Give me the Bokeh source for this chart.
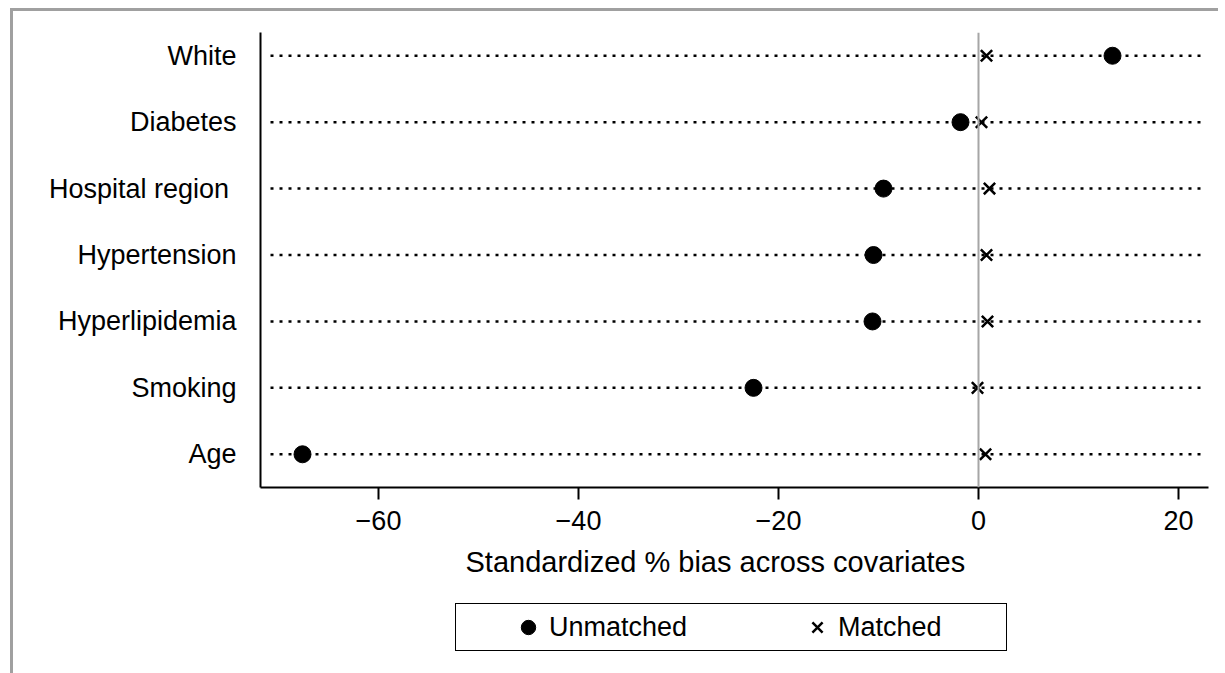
from bokeh.plotting import figure
from bokeh.layouts import column
from bokeh.models import FixedTicker, Span, Legend, LegendItem, Title, ColumnDataSource
from bokeh.embed import file_html
from bokeh.resources import INLINE

# ---- data (bottom row first) ----
categories = ["Age", "Smoking", "Hyperlipidemia", "Hypertension",
              "Hospital region ", "Diabetes", "White"]
unmatched = [-67.6, -22.5, -10.6, -10.5, -9.5, -1.8, 13.4]
matched = [0.7, -0.1, 0.9, 0.8, 1.1, 0.3, 0.8]
x_ticks = [-60, -40, -20, 0, 20]
x_tick_labels = ["\u221260", "\u221240", "\u221220", "0", "20"]
x_title = "Standardized % bias across covariates"
legend_labels = ["Unmatched", "Matched"]

LINE_START, LINE_END = -70.8, 22.6
FONT = "Liberation Sans"
TOTAL_W = 1205

pos = list(range(1, len(categories) + 1))
src = ColumnDataSource(dict(pos=pos, unmatched=unmatched, matched=matched,
                            x0=[LINE_START] * len(pos), x1=[LINE_END] * len(pos)))

p = figure(frame_width=948, frame_height=455,
           x_range=(-71.8, 23.0), y_range=(0.5, 7.35),
           output_backend="svg", toolbar_location=None,
           min_border_left=247, min_border_right=10, min_border_top=21,
           min_border_bottom=110)
p.outline_line_color = None
p.xgrid.visible = False
p.ygrid.visible = False
p.background_fill_color = "white"
p.border_fill_color = "white"

# x axis
xa = p.xaxis[0]
xa.ticker = FixedTicker(ticks=x_ticks)
xa.major_label_overrides = {t: l for t, l in zip(x_ticks, x_tick_labels)}
xa.axis_line_width = 2
xa.major_tick_line_width = 2
xa.major_tick_out = 12
xa.major_tick_in = 0
xa.minor_tick_line_color = None
xa.major_label_text_font = FONT
xa.major_label_text_font_size = "27px"
xa.major_label_text_color = "black"
xa.major_label_standoff = 11

# y axis
ya = p.yaxis[0]
ya.ticker = FixedTicker(ticks=pos)
ya.major_label_overrides = {k: c for k, c in zip(pos, categories)}
ya.axis_line_width = 2
ya.major_tick_out = 0
ya.major_tick_in = 0
ya.minor_tick_line_color = None
ya.major_label_text_font = FONT
ya.major_label_text_font_size = "27px"
ya.major_label_text_color = "black"
ya.major_label_standoff = 24

# dotted row lines
p.segment(x0="x0", x1="x1", y0="pos", y1="pos", source=src,
          line_color="black", line_width=2.5, line_dash="3 6")

# zero line
p.add_layout(Span(location=0, dimension="height", line_color="#a6a6a6", line_width=2))

r1 = p.scatter(x="unmatched", y="pos", source=src, marker="circle", size=17,
               fill_color="black", line_color="black")
r2 = p.scatter(x="matched", y="pos", source=src, marker="x", size=16,
               line_color="black", line_width=2.5)

title = Title(text=x_title, align="left", offset=205, text_font=FONT,
              text_font_size="29px", text_font_style="normal", text_color="black",
              vertical_align="top", standoff=26)
p.add_layout(title, "below")

# ---- legend strip (separate small figure, same marker styles, data kept off-view) ----
p2 = figure(width=TOTAL_W, height=76, x_range=(1000, 1001), y_range=(1000, 1001),
            output_backend="svg", toolbar_location=None,
            min_border=0, min_border_left=0, min_border_right=0,
            min_border_top=0, min_border_bottom=0)
p2.axis.visible = False
p2.grid.visible = False
p2.outline_line_color = None
p2.border_fill_color = "white"
lr1 = p2.scatter(x="unmatched", y="pos", source=src, marker="circle", size=17,
                 fill_color="black", line_color="black")
lr2 = p2.scatter(x="matched", y="pos", source=src, marker="x", size=16,
                 line_color="black", line_width=2.5)

legend = Legend(items=[LegendItem(label=legend_labels[0], renderers=[lr1]),
                       LegendItem(label=legend_labels[1], renderers=[lr2])],
                orientation="horizontal", location=(195, 22),
                label_text_font=FONT, label_text_font_size="27px",
                label_text_color="black",
                glyph_width=36, glyph_height=36, label_standoff=3, spacing=112,
                border_line_color="black", border_line_width=1.5,
                border_line_alpha=1.0,
                background_fill_color="white", background_fill_alpha=1.0,
                margin=0, padding=5)
try:
    legend.padding = {"left": 54, "right": 64, "top": 5, "bottom": 5}
except Exception:
    pass
p2.add_layout(legend, "center")

layout = column(p, p2, spacing=0)
layout.styles = {"border-top": "3px solid #a0a0a0", "border-left": "3px solid #a0a0a0",
                 "margin-top": "8px", "margin-left": "10px"}

open("out.html", "w").write(file_html(layout, INLINE))
